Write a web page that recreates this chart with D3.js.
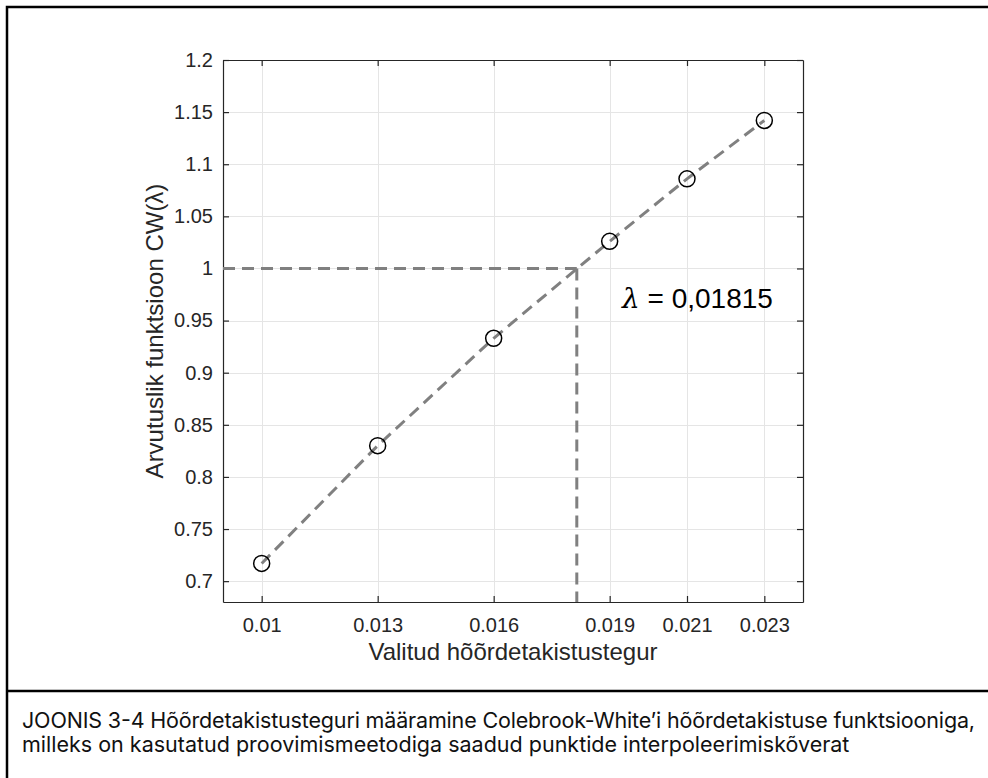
<!DOCTYPE html>
<html>
<head>
<meta charset="utf-8">
<script src="https://cdn.jsdelivr.net/npm/d3@7"></script>
<style>
  body { margin: 0; background: #fff; }
  svg { display: block; }
</style>
</head>
<body>
<script>
// chart values
const xValues = [0.010, 0.013, 0.016, 0.019, 0.021, 0.023];
const cwValues = [0.717, 0.830, 0.933, 1.026, 1.086, 1.142];
const xTicks = [0.010, 0.013, 0.016, 0.019, 0.021, 0.023];
const xTickLabels = ['0.01', '0.013', '0.016', '0.019', '0.021', '0.023'];
const yTicks = [0.7, 0.75, 0.8, 0.85, 0.9, 0.95, 1, 1.05, 1.1, 1.15, 1.2];
const lambda = 0.01815;
const target = 1;
const captionLines = [
    'JOONIS 3-4 Hõõrdetakistusteguri määramine Colebrook-White’i hõõrdetakistuse funktsiooniga,',
    'milleks on kasutatud proovimismeetodiga saadud punktide interpoleerimiskõverat'
];

const W = 988, H = 778;
const plot = {left: 223, top: 60, right: 803, bottom: 602};
const axisColor = '#262626';
const font = '"Liberation Sans", Arial, sans-serif';

const svg = d3.select('body').append('svg')
    .attr('width', W)
    .attr('height', H);

const x = d3.scaleLinear().domain([0.009, 0.024]).range([plot.left, plot.right]);
const y = d3.scaleLinear().domain([0.68, 1.2]).range([plot.bottom, plot.top]);

// grid
const grid = svg.append('g').attr('stroke', '#e5e5e5').attr('stroke-width', 1);
grid.selectAll('.gx').data(xTicks).enter().append('line')
    .attr('x1', d => Math.round(x(d)) + 0.5).attr('x2', d => Math.round(x(d)) + 0.5)
    .attr('y1', plot.top).attr('y2', plot.bottom);
grid.selectAll('.gy').data(yTicks).enter().append('line')
    .attr('y1', d => Math.round(y(d)) + 0.5).attr('y2', d => Math.round(y(d)) + 0.5)
    .attr('x1', plot.left).attr('x2', plot.right);

// axes (MATLAB style, ticks inside, box on)
const tickLen = 6;
const xAxis = d3.axisBottom(x).tickValues(xTicks)
    .tickFormat((d, i) => xTickLabels[i])
    .tickSizeInner(-tickLen).tickSizeOuter(0).tickPadding(16);
const gX = svg.append('g')
    .attr('transform', 'translate(0,' + plot.bottom + ')')
    .call(xAxis);
const yAxis = d3.axisLeft(y).tickValues(yTicks)
    .tickFormat(d => String(+d.toFixed(2)))
    .tickSizeInner(-tickLen).tickSizeOuter(0).tickPadding(10);
const gY = svg.append('g')
    .attr('transform', 'translate(' + plot.left + ',0)')
    .call(yAxis);
const gXTop = svg.append('g')
    .attr('transform', 'translate(0,' + plot.top + ')')
    .call(d3.axisTop(x).tickValues(xTicks).tickFormat('').tickSizeInner(-tickLen).tickSizeOuter(0));
const gYRight = svg.append('g')
    .attr('transform', 'translate(' + plot.right + ',0)')
    .call(d3.axisRight(y).tickValues(yTicks).tickFormat('').tickSizeInner(-tickLen).tickSizeOuter(0));

[gX, gY, gXTop, gYRight].forEach(g => {
    g.select('.domain').attr('stroke', axisColor).attr('stroke-width', 1.2);
    g.selectAll('.tick line').attr('stroke', axisColor).attr('stroke-width', 1.2);
    g.selectAll('.tick text')
        .attr('fill', axisColor)
        .style('font-family', font)
        .style('font-size', '20px');
});

// dashed lines to lambda
const dashColor = '#808080';
svg.append('line')
    .attr('x1', x(0.009)).attr('x2', x(lambda))
    .attr('y1', y(target)).attr('y2', y(target))
    .attr('stroke', dashColor).attr('stroke-width', 3)
    .attr('stroke-dasharray', '12,7');
svg.append('line')
    .attr('x1', x(lambda)).attr('x2', x(lambda))
    .attr('y1', y(target)).attr('y2', y(0.68))
    .attr('stroke', dashColor).attr('stroke-width', 3)
    .attr('stroke-dasharray', '12,7');

// interpolation curve
const pts = xValues.map((v, i) => ({x: v, y: cwValues[i]}));
svg.append('path')
    .datum(pts)
    .attr('d', d3.line().x(d => x(d.x)).y(d => y(d.y)))
    .attr('fill', 'none')
    .attr('stroke', dashColor)
    .attr('stroke-width', 3)
    .attr('stroke-dasharray', '12,7');

svg.selectAll('circle.pt')
    .data(pts)
    .enter().append('circle')
    .attr('class', 'pt')
    .attr('cx', d => x(d.x))
    .attr('cy', d => y(d.y))
    .attr('r', 8)
    .attr('fill', 'none')
    .attr('stroke', '#000')
    .attr('stroke-width', 1.5);

// annotation
const ann = svg.append('text')
    .attr('x', 622).attr('y', 308)
    .style('font-family', font)
    .style('font-size', '28px')
    .attr('fill', '#000');
ann.append('tspan').style('font-style', 'italic').style('font-family', '"DejaVu Serif", serif').text('λ');
ann.append('tspan').text(' = 0,01815');

// axis labels
svg.append('text')
    .attr('x', (plot.left + plot.right) / 2)
    .attr('y', 660)
    .attr('text-anchor', 'middle')
    .style('font-family', font)
    .style('font-size', '24px')
    .attr('fill', axisColor)
    .text('Valitud hõõrdetakistustegur');
svg.append('text')
    .attr('transform', 'translate(163,' + (plot.top + plot.bottom) / 2 + ') rotate(-90)')
    .attr('text-anchor', 'middle')
    .style('font-family', font)
    .style('font-size', '24px')
    .attr('fill', axisColor)
    .text('Arvutuslik funktsioon CW(λ)');

// frame and caption
const frame = svg.append('g').attr('stroke', '#000').attr('stroke-width', 2.5).attr('fill', 'none');
frame.append('path').attr('d', 'M7,778 V7 H988');
frame.append('line').attr('x1', 7).attr('x2', 988).attr('y1', 691).attr('y2', 691);

const caption = svg.selectAll('text.caption')
    .data(captionLines)
    .enter().append('text')
    .attr('class', 'caption')
    .attr('x', 22)
    .attr('y', (d, i) => 728 + i * 24)
    .style('font-family', 'Inter, "Noto Sans", sans-serif')
    .style('font-size', '21.5px')
    .attr('fill', '#111')
    .text(d => d);
// first line is squeezed to the frame width in the original
caption.filter((d, i) => i === 0)
    .attr('textLength', 953)
    .attr('lengthAdjust', 'spacing');
</script>
</body>
</html>
